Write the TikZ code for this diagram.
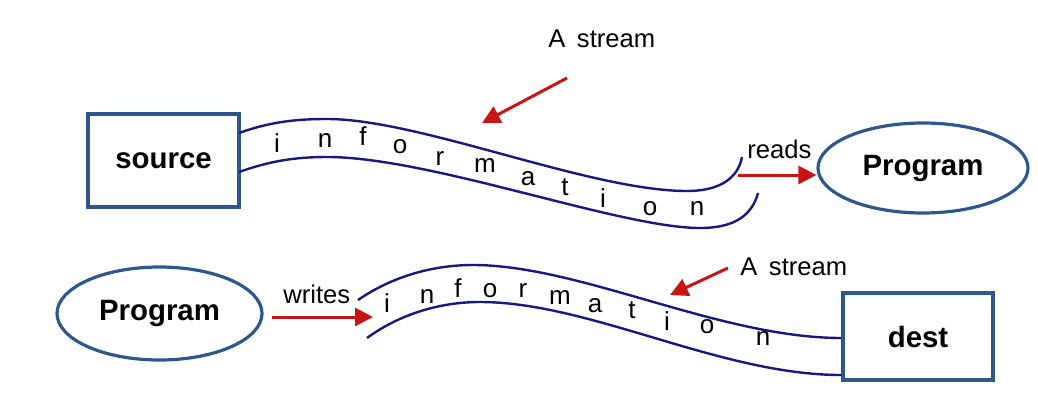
\documentclass[tikz,border=0pt]{standalone}
\usepackage{fontspec}
\setmainfont{Liberation Sans}
\usetikzlibrary{arrows.meta,shapes.geometric}
\definecolor{bleuboite}{RGB}{46,88,140}
\definecolor{bleuflux}{RGB}{24,24,130}
\definecolor{rougefl}{RGB}{200,20,20}

\begin{document}
\begin{tikzpicture}[x=0.5pt,y=-0.5pt,
  boite/.style={draw=bleuboite,line width=1.7pt,rectangle,inner sep=0pt,
    font=\fontsize{14.7}{16}\selectfont\bfseries},
  prog/.style={draw=bleuboite,line width=1.6pt,ellipse,inner sep=0pt,
    font=\fontsize{14.7}{16}\selectfont\bfseries},
  flux/.style={draw=bleuflux,line width=1.2pt},
  fleche/.style={draw=rougefl,line width=1.5pt,-{Triangle[length=9pt,width=9pt]},rougefl},
  lettre/.style={anchor=base,inner sep=0pt,font=\fontsize{13}{15}\selectfont},
  texte/.style={anchor=base west,inner sep=0pt,font=\fontsize{12.8}{15}\selectfont}]

\useasboundingbox (0,0) rectangle (1038,413);

% Lecture : source -> Program
\node[boite,minimum width=75.5pt,minimum height=46.5pt] (source) at (163.5,160.5) {source};
\node[prog,minimum width=105pt,minimum height=45pt] (progA) at (923,168) {Program};

\draw[flux] (239,133) .. controls (270,122) and (295,119) .. (327,119)
  .. controls (420,119) and (590,191) .. (687,191)
  .. controls (720,191) and (738,178) .. (742,157);
\draw[flux] (239,172) .. controls (270,161) and (295,157) .. (327,157)
  .. controls (430,157) and (620,228) .. (700,228)
  .. controls (735,228) and (752,215) .. (758,193);

\foreach \x/\y/\l [count=\i] in {
277/152/i, 325/147/n, 363/145/f, 400/153/o, 440/165/r, 485/172/m,
528/185/a, 565/195/t, 603/207/i, 650/215/o, 697/215/n
}
{
    \node[lettre] (ha\i) at (\x,\y) {\l};
}

\node[texte] (flA) at (548,47) {A\hspace{0.45em}stream};
\coordinate (dA) at (567,78);
\coordinate (fA) at (482,123);
\draw[fleche] (dA) -- (fA);

\node[texte] (lit) at (747,158) {reads};
\coordinate (lec) at (738,175);
\draw[fleche] (lec) -- (lec -| progA.west);

% Ecriture : Program -> dest
\node[prog,minimum width=102.5pt,minimum height=46.5pt] (progB) at (159.5,313.5) {Program};
\node[boite,minimum width=75pt,minimum height=43.5pt] (dest) at (918,336.5) {dest};

\draw[flux] (358,300) .. controls (390,278) and (430,265) .. (473,265)
  .. controls (580,265) and (720,338) .. (dest.west |- 0,338);
\draw[flux] (367,338) .. controls (400,314) and (440,302) .. (480,302)
  .. controls (590,302) and (720,375) .. (dest.west |- 0,375);

\foreach \x/\y/\l [count=\i] in {
387/312/i, 427/303/n, 458/297/f, 490/297/o, 523/297/r, 560/304/m,
595/312/a, 632/318/t, 667/330/i, 707/333/o, 763/345/n
}
{
    \node[lettre] (hb\i) at (\x,\y) {\l};
}

\node[texte] (ecrit) at (283,303) {writes};
\coordinate (ecr) at (272,317);
\coordinate (entB) at (373,317);
\draw[fleche] (ecr) -- (entB);

\node[texte] (flB) at (740,275) {A\hspace{0.45em}stream};
\coordinate (dB) at (728,268);
\coordinate (fB) at (670,295);
\draw[fleche] (dB) -- (fB);

\end{tikzpicture}
\end{document}
